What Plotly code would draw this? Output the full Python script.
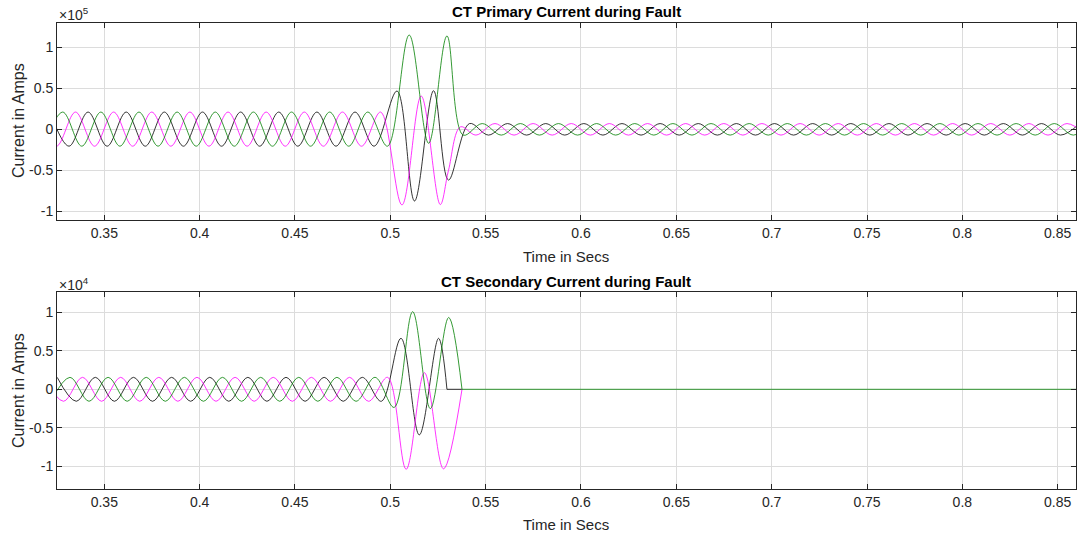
import plotly.graph_objects as go

# ---------------- data (extrema, amps) ----------------
# Primary (top panel)
prim_green_t = [0.3182, 0.3282, 0.3382, 0.3482, 0.3582, 0.3682, 0.3782, 0.3882, 0.3982, 0.4082,
                0.4182, 0.4282, 0.4382, 0.4482, 0.4582, 0.4682, 0.4782, 0.4882, 0.4985,
                0.5099, 0.5201, 0.5297,
                0.5382, 0.5482, 0.5582, 0.5682, 0.5782, 0.5882, 0.5982, 0.6082, 0.6182, 0.6282,
                0.6382, 0.6482, 0.6582, 0.6682, 0.6782, 0.6882, 0.6982, 0.7082, 0.7182, 0.7282,
                0.7382, 0.7482, 0.7582, 0.7682, 0.7782, 0.7882, 0.7982, 0.8082, 0.8182, 0.8282,
                0.8382, 0.8482, 0.8582, 0.8682]
prim_green_v = [-20500, 21000, -20500, 21000, -20500, 21000, -20500, 21000, -20500, 21000,
                -20500, 21000, -20500, 21000, -20500, 21000, -20500, 21000, -20500,
                114700, -17000, 113500,
                -7000, 7000, -7000, 7000, -7000, 7000, -7000, 7000, -7000, 7000,
                -7000, 7000, -7000, 7000, -7000, 7000, -7000, 7000, -7000, 7000,
                -7000, 7000, -7000, 7000, -7000, 7000, -7000, 7000, -7000, 7000,
                -7000, 7000, -7000, 7000]

prim_black_t = [0.3215, 0.3315, 0.3415, 0.3515, 0.3615, 0.3715, 0.3815, 0.3915, 0.4015, 0.4115,
                0.4215, 0.4315, 0.4415, 0.4515, 0.4615, 0.4715, 0.4815, 0.4915,
                0.5035, 0.5127, 0.5227, 0.5305,
                0.5415, 0.5515, 0.5615, 0.5715, 0.5815, 0.5915, 0.6015, 0.6115, 0.6215, 0.6315,
                0.6415, 0.6515, 0.6615, 0.6715, 0.6815, 0.6915, 0.7015, 0.7115, 0.7215, 0.7315,
                0.7415, 0.7515, 0.7615, 0.7715, 0.7815, 0.7915, 0.8015, 0.8115, 0.8215, 0.8315,
                0.8415, 0.8515, 0.8615]
prim_black_v = [21000, -20500, 21000, -20500, 21000, -20500, 21000, -20500, 21000, -20500,
                21000, -20500, 21000, -20500, 21000, -20500, 21000, -20500,
                46600, -87200, 47000, -61700,
                7000, -7000, 7000, -7000, 7000, -7000, 7000, -7000, 7000, -7000,
                7000, -7000, 7000, -7000, 7000, -7000, 7000, -7000, 7000, -7000,
                7000, -7000, 7000, -7000, 7000, -7000, 7000, -7000, 7000, -7000,
                7000, -7000, 7000]

prim_mag_t = [0.3149, 0.3249, 0.3349, 0.3449, 0.3549, 0.3649, 0.3749, 0.3849, 0.3949, 0.4049,
              0.4149, 0.4249, 0.4349, 0.4449, 0.4549, 0.4649, 0.4749, 0.4849, 0.4949,
              0.5061, 0.5162, 0.5262, 0.5305, 0.5368,
              0.5449, 0.5549, 0.5649, 0.5749, 0.5849, 0.5949, 0.6049, 0.6149, 0.6249, 0.6349,
              0.6449, 0.6549, 0.6649, 0.6749, 0.6849, 0.6949, 0.7049, 0.7149, 0.7249, 0.7349,
              0.7449, 0.7549, 0.7649, 0.7749, 0.7849, 0.7949, 0.8049, 0.8149, 0.8249, 0.8349,
              0.8449, 0.8549, 0.8649]
prim_mag_v = [21000, -20500, 21000, -20500, 21000, -20500, 21000, -20500, 21000, -20500,
              21000, -20500, 21000, -20500, 21000, -20500, 21000, -20500, 21000,
              -92000, 40500, -91500, -50000, 3000,
              -7000, 7000, -7000, 7000, -7000, 7000, -7000, 7000, -7000, 7000,
              -7000, 7000, -7000, 7000, -7000, 7000, -7000, 7000, -7000, 7000,
              -7000, 7000, -7000, 7000, -7000, 7000, -7000, 7000, -7000, 7000,
              -7000, 7000, -7000]

# Secondary (bottom panel)
sec_green_t = [0.3220, 0.3320, 0.3420, 0.3520, 0.3620, 0.3720, 0.3820, 0.3920, 0.4020, 0.4120,
               0.4220, 0.4320, 0.4420, 0.4520, 0.4620, 0.4720, 0.4820, 0.4920,
               0.5020, 0.5117, 0.5210, 0.5306, 0.5376]
sec_green_v = [-1550, 1550, -1550, 1550, -1550, 1550, -1550, 1550, -1550, 1550,
               -1550, 1550, -1550, 1550, -1550, 1550, -1550, 1550,
               -2350, 10050, -2500, 9300, 0]

sec_black_t = [0.3253, 0.3353, 0.3453, 0.3553, 0.3653, 0.3753, 0.3853, 0.3953, 0.4053, 0.4153,
               0.4253, 0.4353, 0.4453, 0.4553, 0.4653, 0.4753, 0.4853, 0.4953,
               0.5056, 0.5152, 0.5253, 0.5297]
sec_black_v = [1550, -1550, 1550, -1550, 1550, -1550, 1550, -1550, 1550, -1550,
               1550, -1550, 1550, -1550, 1550, -1550, 1550, -1550,
               6600, -5900, 6600, 0]
sec_black_flat_t = [0.5297, 0.5376]
sec_black_flat_v = [0, 0]

sec_mag_t = [0.3186, 0.3286, 0.3386, 0.3486, 0.3586, 0.3686, 0.3786, 0.3886, 0.3986, 0.4086,
             0.4186, 0.4286, 0.4386, 0.4486, 0.4586, 0.4686, 0.4786, 0.4886, 0.4986,
             0.5083, 0.5179, 0.5279, 0.5376]
sec_mag_v = [1550, -1550, 1550, -1550, 1550, -1550, 1550, -1550, 1550, -1550,
             1550, -1550, 1550, -1550, 1550, -1550, 1550, -1550, 1550,
             -10360, 2150, -10300, 0]

sec_tail_t = [0.5376, 0.8596]
sec_tail_v = [0, 0]

x_ticks = [0.35, 0.4, 0.45, 0.5, 0.55, 0.6, 0.65, 0.7, 0.75, 0.8, 0.85]
x_tick_text = ["0.35", "0.4", "0.45", "0.5", "0.55", "0.6", "0.65", "0.7", "0.75", "0.8", "0.85"]
y_ticks = [-1, -0.5, 0, 0.5, 1]
y_tick_text = ["-1", "-0.5", "0", "0.5", "1"]

top_scale = 1e5
bot_scale = 1e4

BLACK = "#000000"
MAGENTA = "#ff00ff"
GREEN = "#008000"
LW = 0.8
AXC = "#262626"
FONT = "Liberation Sans, Arial, sans-serif"

fig = go.Figure()


def add(t, v, scale, color, xa, ya, shape="spline"):
    fig.add_trace(go.Scatter(
        x=t, y=[val / scale for val in v], mode="lines",
        line=dict(color=color, width=LW, shape=shape, smoothing=1.0),
        xaxis=xa, yaxis=ya, showlegend=False, hoverinfo="skip"))


# top panel
add(prim_black_t, prim_black_v, top_scale, BLACK, "x", "y")
add(prim_mag_t, prim_mag_v, top_scale, MAGENTA, "x", "y")
add(prim_green_t, prim_green_v, top_scale, GREEN, "x", "y")

# bottom panel
add(sec_black_t, sec_black_v, bot_scale, BLACK, "x2", "y2")
add(sec_black_flat_t, sec_black_flat_v, bot_scale, BLACK, "x2", "y2", shape="linear")
add(sec_mag_t, sec_mag_v, bot_scale, MAGENTA, "x2", "y2")
add(sec_green_t, sec_green_v, bot_scale, GREEN, "x2", "y2")
add(sec_tail_t, sec_tail_v, bot_scale, GREEN, "x2", "y2", shape="linear")

W, H = 1078, 538

xaxis_common = dict(
    range=[0.3252, 0.8596], tickvals=x_ticks, ticktext=x_tick_text,
    showgrid=True, gridcolor="#dcdcdc", gridwidth=1,
    showline=True, linecolor=AXC, linewidth=1, mirror="ticks",
    ticks="inside", ticklen=5, tickcolor=AXC,
    tickfont=dict(family=FONT, size=14, color=AXC),
    zeroline=False, automargin=False, fixedrange=True,
)
yaxis_common = dict(
    tickvals=y_ticks, ticktext=y_tick_text,
    showgrid=True, gridcolor="#dcdcdc", gridwidth=1,
    showline=True, linecolor=AXC, linewidth=1, mirror="ticks",
    ticks="inside", ticklen=5, tickcolor=AXC,
    tickfont=dict(family=FONT, size=14, color=AXC),
    zeroline=False, automargin=False, fixedrange=True,
)

top_dom = [1 - 220.0 / H, 1 - 22.7 / H]
bot_dom = [1 - 489.0 / H, 1 - 292.3 / H]

fig.update_layout(
    width=W, height=H,
    margin=dict(l=57, r=2, t=0, b=0),
    paper_bgcolor="white", plot_bgcolor="white",
    font=dict(family=FONT, color=AXC),
    xaxis=dict(**xaxis_common, domain=[0, 1], anchor="y"),
    yaxis=dict(**yaxis_common, domain=top_dom, range=[-1.103, 1.297], anchor="x"),
    xaxis2=dict(**xaxis_common, domain=[0, 1], anchor="y2"),
    yaxis2=dict(**yaxis_common, domain=bot_dom, range=[-1.291, 1.256], anchor="x2"),
)

plot_w = W - 57 - 2


def px_x(px):
    return (px - 57) / plot_w


def px_y(py):
    return 1 - py / H


ann = []
ann.append(dict(text="<b>CT Primary Current during Fault</b>", x=px_x(566), y=px_y(11), size=15))
ann.append(dict(text="<b>CT Secondary Current during Fault</b>", x=px_x(566), y=px_y(281), size=15))
ann.append(dict(text="Time in Secs", x=px_x(566), y=px_y(256), size=15))
ann.append(dict(text="Time in Secs", x=px_x(566), y=px_y(524), size=15))
ann.append(dict(text="Current in Amps", x=px_x(18), y=px_y(121), size=16, angle=-90))
ann.append(dict(text="Current in Amps", x=px_x(18), y=px_y(391), size=16, angle=-90))
ann.append(dict(text="\u00d710<sup>5</sup>", x=px_x(57), y=px_y(14), size=14, left=True))
ann.append(dict(text="\u00d710<sup>4</sup>", x=px_x(57), y=px_y(284), size=14, left=True))

annotations = []
for a in ann:
    annotations.append(dict(
        text=a["text"], x=a["x"], y=a["y"], xref="paper", yref="paper",
        xanchor="left" if a.get("left") else "center", yanchor="middle",
        showarrow=False, textangle=a.get("angle", 0),
        font=dict(family=FONT, size=a["size"], color="#000000" if "<b>" in a["text"] else AXC)))
fig.update_layout(annotations=annotations)

fig.write_html(
    "out.html",
    config={"displayModeBar": False},
    post_script="document.body.style.margin='0';document.body.style.overflow='hidden';",
)
